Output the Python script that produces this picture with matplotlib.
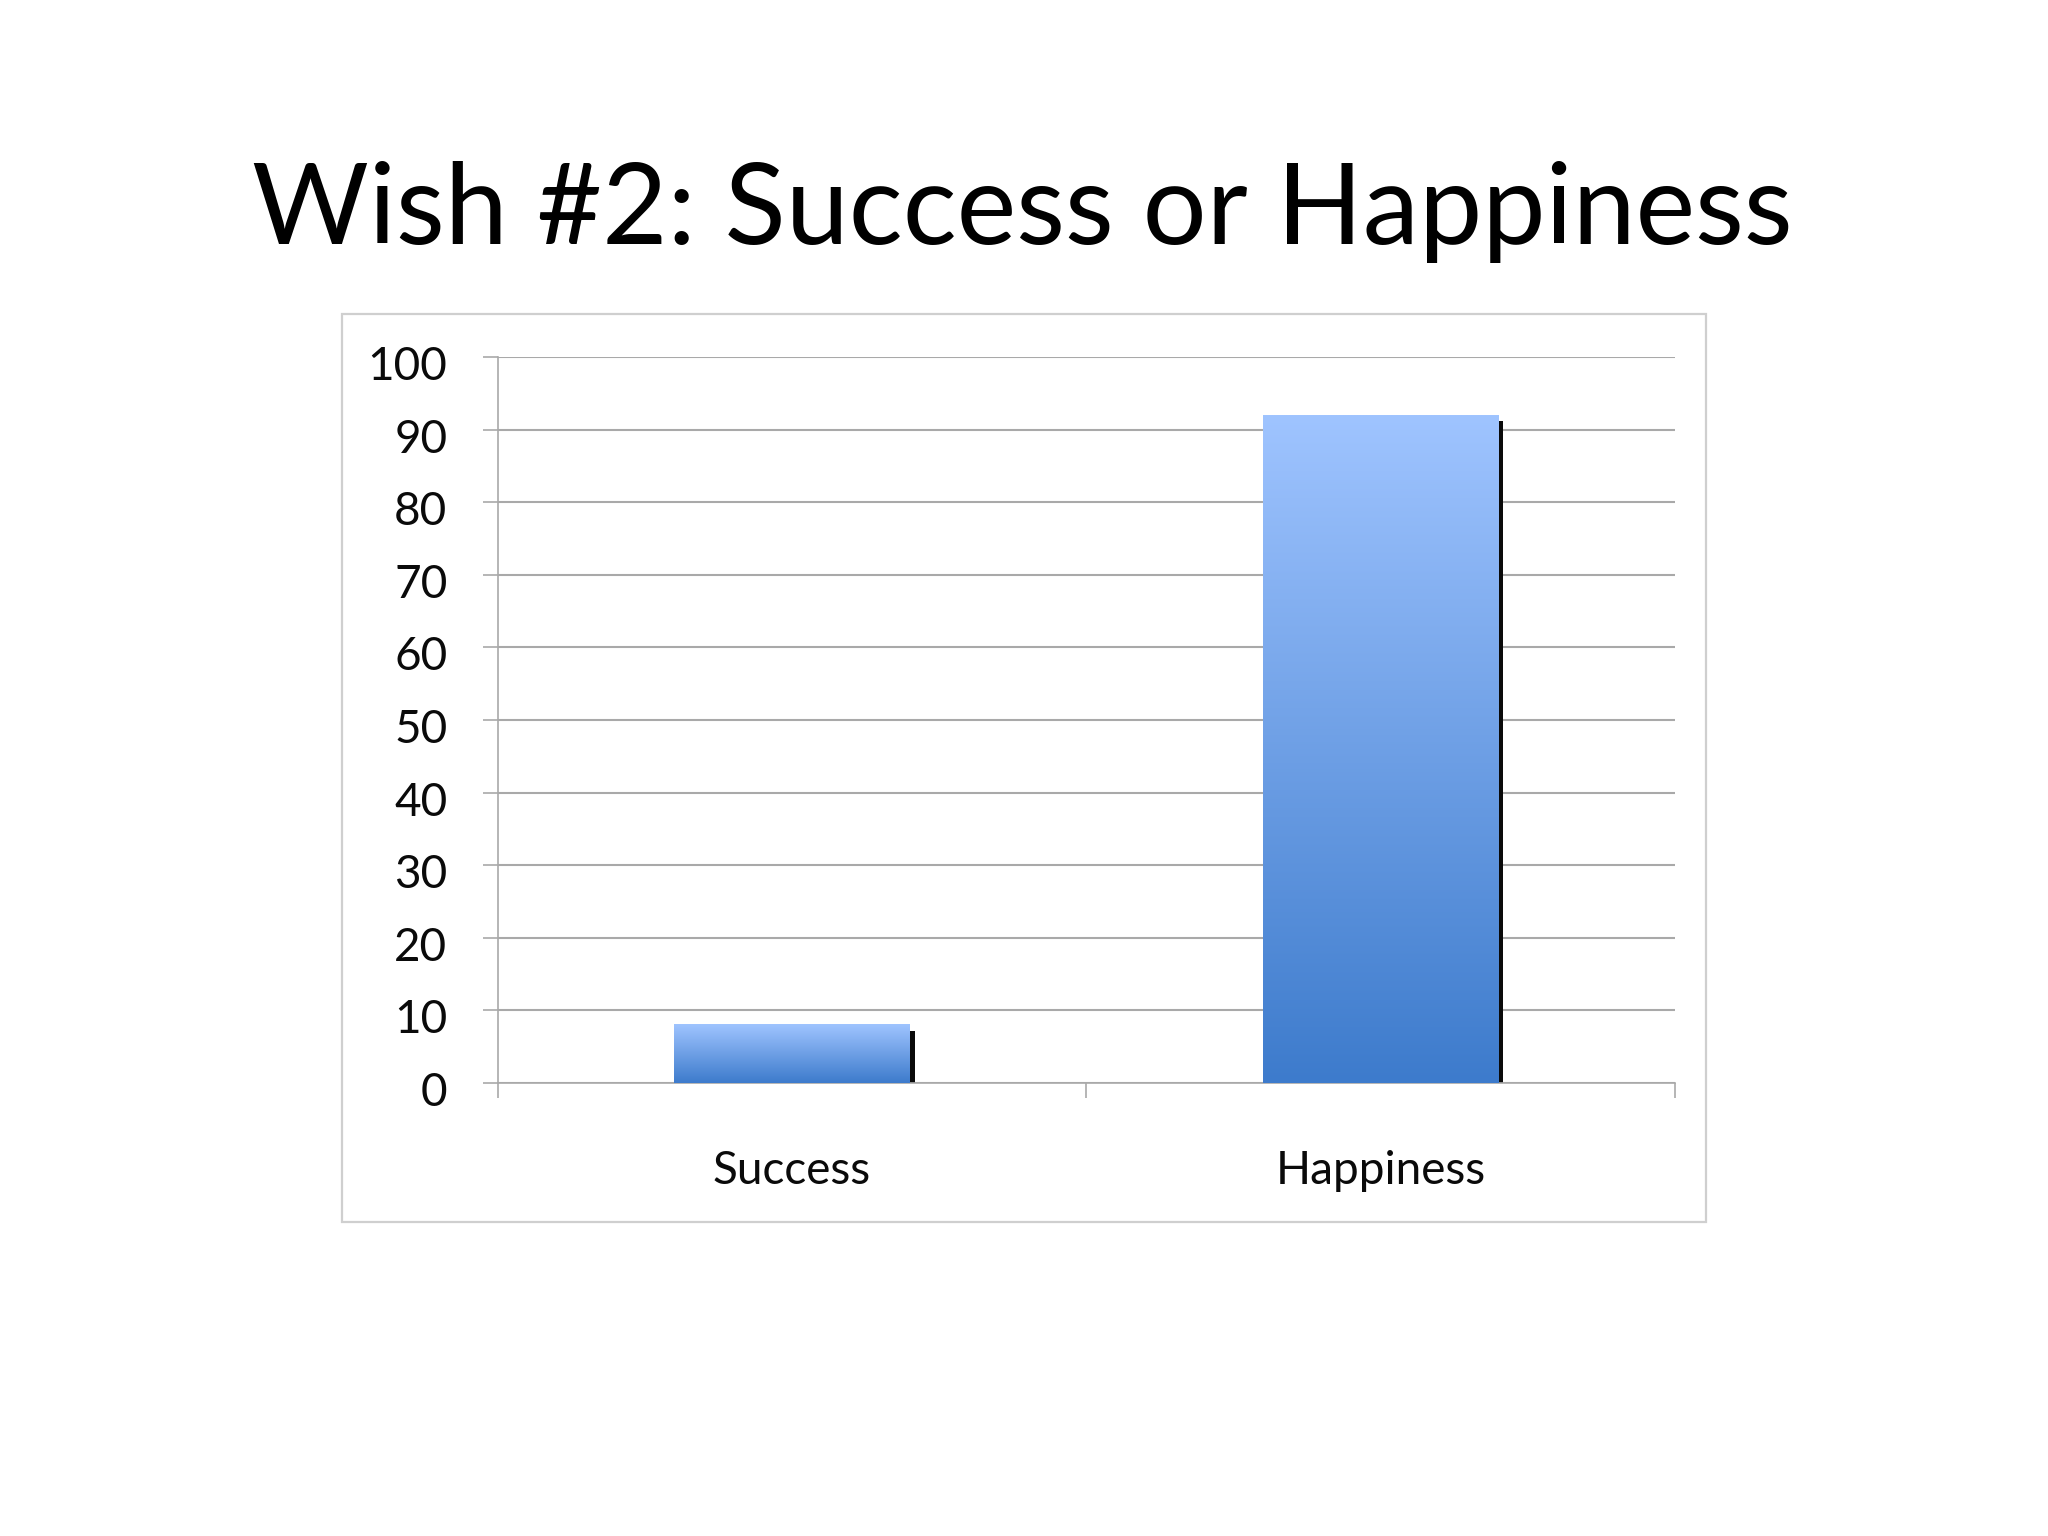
import matplotlib
matplotlib.use("Agg")
import matplotlib.pyplot as plt
import numpy as np
from matplotlib.colors import LinearSegmentedColormap
from matplotlib.patches import Rectangle
from matplotlib.transforms import ScaledTranslation

# ---- data ----
categories = ["Success", "Happiness"]
values = [8, 92]
yticks = [0, 10, 20, 30, 40, 50, 60, 70, 80, 90, 100]
title = "Wish #2: Success or Happiness"

plt.rcParams['font.family'] = ['Lato', 'DejaVu Sans']

W, H = 2048, 1536
fig = plt.figure(figsize=(W / 100, H / 100), dpi=100)
fig.patch.set_facecolor("white")

# chart frame
fig.patches.append(Rectangle((342 / W, 1 - 1222 / H), (1706 - 342) / W, (1222 - 313.5) / H,
                             transform=fig.transFigure, fill=False,
                             edgecolor="#cfcfcf", linewidth=1.6, zorder=0))

ax = fig.add_axes([497.5 / W, 1 - 1083 / H, (1675 - 497.5) / W, (1083 - 357) / H])
ax.set_facecolor("none")

grid_col = "#a9a9a9"
x = np.arange(len(categories))
bars = ax.bar(x, values, width=0.40, color="none", edgecolor="none", zorder=3)

cmap = LinearSegmentedColormap.from_list("bar", ["#3d7bcc", "#9fc4ff"])
grad = np.linspace(0, 1, 256).reshape(-1, 1)
for b in bars:
    bx, by, bw, bh = b.get_x(), b.get_y(), b.get_width(), b.get_height()
    # drop shadow (right edge), offset in pixels
    off = ax.transData + ScaledTranslation(5 / 100, -6 / 100, fig.dpi_scale_trans)
    sh = Rectangle((bx, by), bw, bh, facecolor="#0a0a0a", edgecolor="none",
                   transform=off, zorder=2)
    ax.add_patch(sh)
    ax.imshow(grad, extent=[bx, bx + bw, by, by + bh], origin="lower",
              aspect="auto", cmap=cmap, zorder=3, interpolation="bilinear")

ax.set_xlim(-0.5, len(categories) - 0.5)
ax.set_ylim(0, 100)
ax.set_yticks(yticks)
ax.set_yticklabels([str(v) for v in yticks])
ax.set_xticks(x)
ax.set_xticklabels(categories)
ax.set_xticks(np.arange(-0.5, len(categories), 1.0), minor=True)

ax.set_axisbelow(True)
ax.yaxis.grid(True, color=grid_col, linewidth=1.5)
ax.xaxis.grid(False)

for s in ["top", "right"]:
    ax.spines[s].set_visible(False)
for s in ["left", "bottom"]:
    ax.spines[s].set_color(grid_col)
    ax.spines[s].set_linewidth(1.2)

ax.tick_params(axis="y", which="major", length=11, width=1.2, color=grid_col,
               labelsize=33, pad=25, labelcolor="#0a0a0a")
ax.tick_params(axis="x", which="major", length=0, labelsize=33, pad=48,
               labelcolor="#0a0a0a")
ax.tick_params(axis="x", which="minor", length=11, width=1.2, color=grid_col,
               direction="out")

# y labels sit slightly below their gridlines in the reference
shift = ScaledTranslation(0, -6 / 100, fig.dpi_scale_trans)
for lab in ax.get_yticklabels():
    lab.set_transform(lab.get_transform() + shift)

# title fitted to reference width
t = fig.text(1022 / W, 1 - 244 / H, title, ha="center", va="baseline",
             fontsize=80, color="black")
fig.canvas.draw()
w = t.get_window_extent().width
t.set_fontsize(80 * 1542 / w)

fig.savefig("out.png", dpi=100, facecolor="white")
